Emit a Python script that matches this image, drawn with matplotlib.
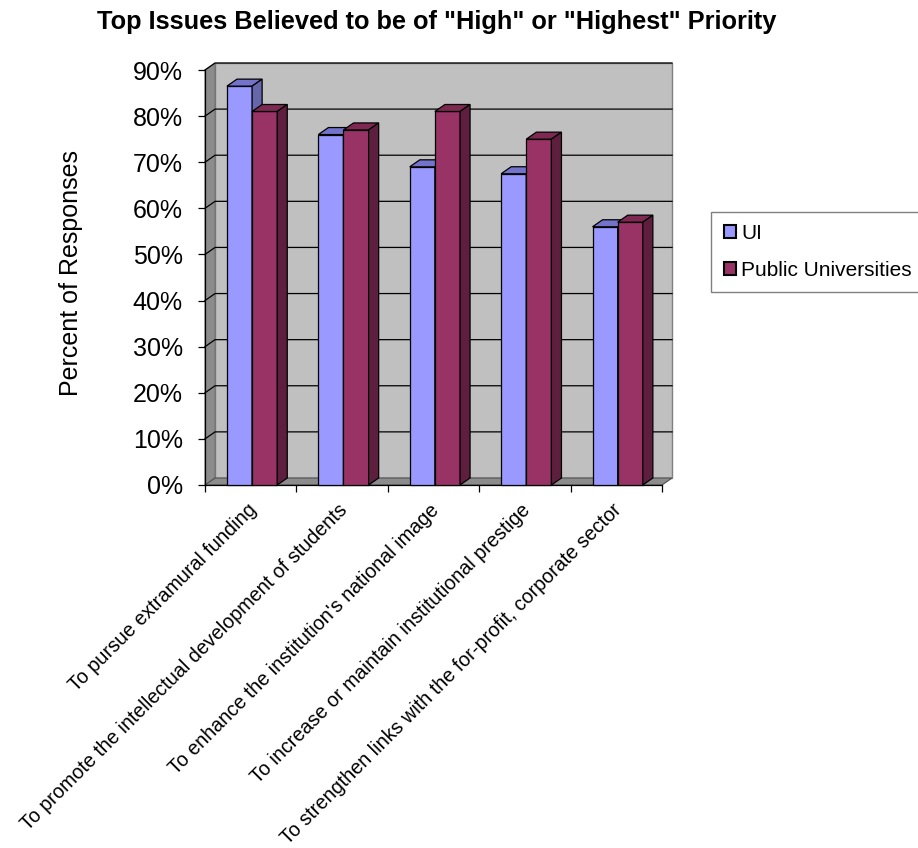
import matplotlib
matplotlib.use("Agg")
import matplotlib.pyplot as plt
import matplotlib.transforms as mtransforms
from matplotlib.patches import Polygon, Patch

plt.rcParams["font.family"] = ["Liberation Sans", "DejaVu Sans"]

# data
CATEGORIES = [
    "To pursue extramural funding",
    "To promote the intellectual development of students",
    "To enhance the institution's national image",
    "To increase or maintain institutional prestige",
    "To strengthen links with the for-profit, corporate sector",
]
UI_VALUES = [0.865, 0.76, 0.69, 0.675, 0.56]
PUBLIC_VALUES = [0.81, 0.77, 0.81, 0.75, 0.57]
SERIES_NAMES = ["UI", "Public Universities"]
Y_TICKS = [0.0, 0.1, 0.2, 0.3, 0.4, 0.5, 0.6, 0.7, 0.8, 0.9]

# colours: front face, top face, side face
UI_COLORS = ("#9999FF", "#7373CC", "#6666AA")
PU_COLORS = ("#993366", "#7D2952", "#5E1F3F")

# fake 3d depth (data units)
DX = 0.11
DY = 0.0152
BAR_W = 0.275


def draw_bar(ax, x0, h, colors):
    front, top, side = colors
    ax.add_patch(Polygon([(x0, 0), (x0 + BAR_W, 0), (x0 + BAR_W, h), (x0, h)],
                         closed=True, fc=front, ec="black", lw=0.9, zorder=5, clip_on=False))
    ax.add_patch(Polygon([(x0, h), (x0 + BAR_W, h), (x0 + BAR_W + DX, h + DY), (x0 + DX, h + DY)],
                         closed=True, fc=top, ec="black", lw=0.9, zorder=5, clip_on=False))
    ax.add_patch(Polygon([(x0 + BAR_W, 0), (x0 + BAR_W + DX, DY), (x0 + BAR_W + DX, h + DY), (x0 + BAR_W, h)],
                         closed=True, fc=side, ec="black", lw=0.9, zorder=5, clip_on=False))


def main():
    fig = plt.figure(figsize=(9.18, 8.48), dpi=100)
    ax = fig.add_axes([205 / 918, 1 - 485 / 848, 457 / 918, 415 / 848])
    n = len(CATEGORIES)
    ymax = Y_TICKS[-1]
    ax.set_xlim(0, n)
    ax.set_ylim(0, ymax)
    ax.patch.set_visible(False)
    for s in ["top", "right"]:
        ax.spines[s].set_visible(False)
    ax.spines["left"].set_linewidth(0.9)
    ax.spines["bottom"].set_linewidth(0.9)

    # walls and floor
    ax.add_patch(Polygon([(DX, DY), (n + DX, DY), (n + DX, ymax + DY), (DX, ymax + DY)],
                         closed=True, fc="#C0C0C0", ec="#808080", lw=1, zorder=1, clip_on=False))
    ax.add_patch(Polygon([(0, 0), (DX, DY), (DX, ymax + DY), (0, ymax)],
                         closed=True, fc="#8C8C8C", ec="#707070", lw=0.8, zorder=1, clip_on=False))
    ax.add_patch(Polygon([(0, 0), (n, 0), (n + DX, DY), (DX, DY)],
                         closed=True, fc="#8C8C8C", ec="#505050", lw=0.8, zorder=2, clip_on=False))
    for y in Y_TICKS[1:]:
        ax.plot([0, DX, n + DX], [y, y + DY, y + DY], color="black", lw=0.9, zorder=2, clip_on=False)

    for i in range(n):
        draw_bar(ax, i + 0.24, UI_VALUES[i], UI_COLORS)
        draw_bar(ax, i + 0.24 + BAR_W, PUBLIC_VALUES[i], PU_COLORS)

    ax.set_yticks(Y_TICKS)
    ax.set_yticklabels([f"{int(round(v * 100))}%" for v in Y_TICKS], fontsize=18)
    ax.tick_params(axis="y", length=5, width=0.9, pad=11)

    ax.set_xticks(range(n + 1))
    ax.set_xticklabels([""] * (n + 1))
    ax.tick_params(axis="x", which="major", length=5, width=0.9, direction="out")
    ax.set_xticks([i + 0.5 for i in range(n)], minor=True)
    ax.set_xticklabels(CATEGORIES, minor=True, fontsize=14.2, rotation=45,
                       ha="right", va="top", rotation_mode="anchor")
    ax.tick_params(axis="x", which="minor", length=0, pad=11)
    offset = mtransforms.ScaledTranslation(-4 / 100, 0, fig.dpi_scale_trans)
    for lab in ax.get_xticklabels(minor=True):
        lab.set_transform(lab.get_transform() + offset)

    ax.set_ylabel("Percent of Responses", fontsize=18)
    ax.yaxis.set_label_coords(-0.268, 0.51)

    fig.text(437 / 918, 1 - 22 / 848, 'Top Issues Believed to be of "High" or "Highest" Priority',
             fontsize=18.3, fontweight="bold", ha="center", va="center")

    handles = [Patch(fc=UI_COLORS[0], ec="black", lw=1.5), Patch(fc=PU_COLORS[0], ec="black", lw=1.5)]
    leg = fig.legend(handles, SERIES_NAMES, loc="center left", bbox_to_anchor=(711 / 918, 1 - 252 / 848),
                     fontsize=15, frameon=True, fancybox=False, framealpha=1, edgecolor="#808080",
                     handlelength=0.6, handleheight=0.6, handletextpad=0.25, labelspacing=0.85,
                     borderpad=0.6, borderaxespad=0)
    leg.get_frame().set_linewidth(1)

    fig.savefig("out.png", dpi=100, facecolor="white")


if __name__ == "__main__":
    main()
